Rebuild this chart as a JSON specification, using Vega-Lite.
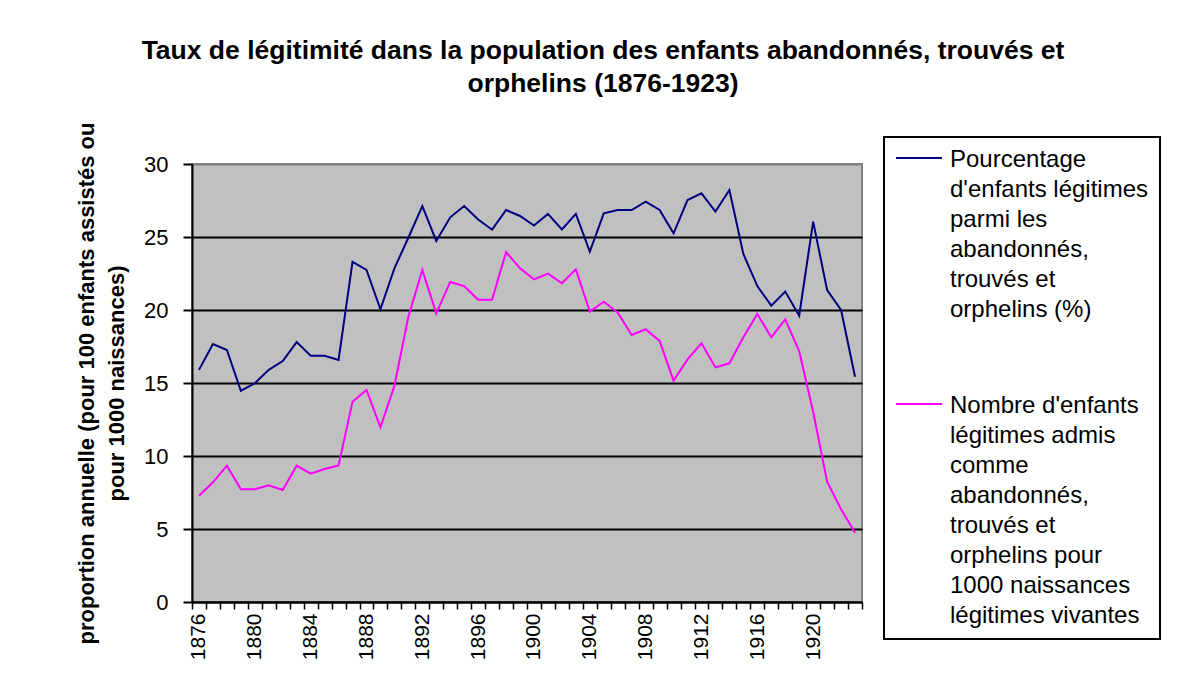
{
  "$schema": "https://vega.github.io/schema/vega-lite/v6.json",
  "autosize": {"type": "none"},
  "padding": {"left": 192, "top": 164, "right": 320, "bottom": 91},
  "width": 670,
  "height": 438,
  "background": "white",
  "config": {
    "font": "Liberation Sans",
    "view": {"stroke": "#808080", "strokeWidth": 2, "fill": "#C0C0C0"}
  },
  "title": {
    "text": ["Taux de légitimité dans la population des enfants abandonnés, trouvés et", "orphelins (1876-1923)"],
    "fontSize": 26.5,
    "fontWeight": "bold",
    "font": "Liberation Sans",
    "color": "black",
    "lineHeight": 33,
    "anchor": "middle",
    "dx": 76,
    "offset": 25
  },
  "data": {
    "values": [
      {"year": 1876, "pct": 15.9, "nombre": 7.28},
      {"year": 1877, "pct": 17.67, "nombre": 8.2},
      {"year": 1878, "pct": 17.26, "nombre": 9.34},
      {"year": 1879, "pct": 14.47, "nombre": 7.72},
      {"year": 1880, "pct": 14.98, "nombre": 7.72},
      {"year": 1881, "pct": 15.9, "nombre": 7.99},
      {"year": 1882, "pct": 16.5, "nombre": 7.67},
      {"year": 1883, "pct": 17.8, "nombre": 9.34},
      {"year": 1884, "pct": 16.87, "nombre": 8.79},
      {"year": 1885, "pct": 16.87, "nombre": 9.11},
      {"year": 1886, "pct": 16.58, "nombre": 9.36},
      {"year": 1887, "pct": 23.29, "nombre": 13.72},
      {"year": 1888, "pct": 22.74, "nombre": 14.52},
      {"year": 1889, "pct": 20.05, "nombre": 11.96},
      {"year": 1890, "pct": 22.85, "nombre": 14.8},
      {"year": 1891, "pct": 24.95, "nombre": 19.54},
      {"year": 1892, "pct": 27.12, "nombre": 22.74},
      {"year": 1893, "pct": 24.73, "nombre": 19.77},
      {"year": 1894, "pct": 26.35, "nombre": 21.92},
      {"year": 1895, "pct": 27.12, "nombre": 21.64},
      {"year": 1896, "pct": 26.2, "nombre": 20.71},
      {"year": 1897, "pct": 25.5, "nombre": 20.71},
      {"year": 1898, "pct": 26.85, "nombre": 23.97},
      {"year": 1899, "pct": 26.44, "nombre": 22.85},
      {"year": 1900, "pct": 25.78, "nombre": 22.1},
      {"year": 1901, "pct": 26.58, "nombre": 22.49},
      {"year": 1902, "pct": 25.52, "nombre": 21.83},
      {"year": 1903, "pct": 26.58, "nombre": 22.78},
      {"year": 1904, "pct": 24.0, "nombre": 19.89},
      {"year": 1905, "pct": 26.62, "nombre": 20.57},
      {"year": 1906, "pct": 26.85, "nombre": 19.82},
      {"year": 1907, "pct": 26.85, "nombre": 18.29},
      {"year": 1908, "pct": 27.42, "nombre": 18.68},
      {"year": 1909, "pct": 26.85, "nombre": 17.88},
      {"year": 1910, "pct": 25.25, "nombre": 15.16},
      {"year": 1911, "pct": 27.53, "nombre": 16.62},
      {"year": 1912, "pct": 27.99, "nombre": 17.72},
      {"year": 1913, "pct": 26.74, "nombre": 16.07},
      {"year": 1914, "pct": 28.22, "nombre": 16.35},
      {"year": 1915, "pct": 23.84, "nombre": 18.13},
      {"year": 1916, "pct": 21.64, "nombre": 19.73},
      {"year": 1917, "pct": 20.3, "nombre": 18.13},
      {"year": 1918, "pct": 21.26, "nombre": 19.36},
      {"year": 1919, "pct": 19.61, "nombre": 17.19},
      {"year": 1920, "pct": 26.05, "nombre": 13.03},
      {"year": 1921, "pct": 21.37, "nombre": 8.24},
      {"year": 1922, "pct": 20.0, "nombre": 6.35},
      {"year": 1923, "pct": 15.43, "nombre": 4.75}
    ]
  },
  "transform": [{"fold": ["pct", "nombre"], "as": ["series", "value"]}],
  "mark": {"type": "line", "strokeWidth": 2},
  "encoding": {
    "x": {
      "field": "year",
      "type": "ordinal",
      "bandPosition": 0.5,
      "scale": {"type": "band", "paddingInner": 0, "paddingOuter": 0},
      "axis": {
        "title": null,
        "labelExpr": "datum.value % 4 == 0 ? datum.label : ''",
        "labelAngle": 270,
        "labelFontSize": 21,
        "labelColor": "black",
        "labelPadding": 4,
        "labelOverlap": false,
        "tickBand": "extent",
        "tickSize": 7,
        "tickWidth": 1.5,
        "tickColor": "black",
        "domainColor": "black",
        "domainWidth": 2,
        "grid": false
      }
    },
    "y": {
      "field": "value",
      "type": "quantitative",
      "scale": {"domain": [0, 30], "nice": false},
      "axis": {
        "values": [0, 5, 10, 15, 20, 25, 30],
        "title": ["proportion annuelle (pour 100 enfants assistés ou", "pour 1000 naissances)"],
        "titleFontSize": 22,
        "titleFontWeight": "bold",
        "titleColor": "black",
        "titleLineHeight": 30,
        "titlePadding": 15,
        "labelFontSize": 22,
        "labelColor": "black",
        "labelPadding": 15,
        "tickSize": 9,
        "tickWidth": 2,
        "tickColor": "black",
        "domainColor": "black",
        "domainWidth": 2,
        "grid": true,
        "gridColor": {"condition": {"test": "datum.value == 30", "value": "#808080"}, "value": "black"},
        "gridWidth": 2
      }
    },
    "color": {
      "field": "series",
      "type": "nominal",
      "scale": {"domain": ["pct", "nombre"], "range": ["#000080", "#FF00FF"]},
      "legend": {
        "orient": "none",
        "legendX": 692,
        "legendY": -27,
        "title": null,
        "symbolType": "stroke",
        "symbolSize": 2116,
        "symbolStrokeWidth": 2,
        "labelFontSize": 24,
        "labelColor": "black",
        "labelLimit": 400,
        "labelOffset": 7,
        "labelBaseline": "top",
        "rowPadding": 72,
        "padding": 11,
        "strokeColor": "black",
        "fillColor": "white",
        "labelExpr": "datum.value == 'pct' ? [\"Pourcentage\", \"d'enfants légitimes\", \"parmi les\", \"abandonnés,\", \"trouvés et\", \"orphelins (%)\"] : [\"Nombre d'enfants\", \"légitimes admis\", \"comme\", \"abandonnés,\", \"trouvés et\", \"orphelins pour\", \"1000 naissances\", \"légitimes vivantes\"]",
        "encode": {
          "symbols": {"update": {"y": {"value": 10}}},
          "labels": {"update": {"lineHeight": {"value": 30}, "y": {"value": 0}}},
          "legend": {"update": {"strokeWidth": {"value": 2}}}
        }
      }
    }
  }
}
